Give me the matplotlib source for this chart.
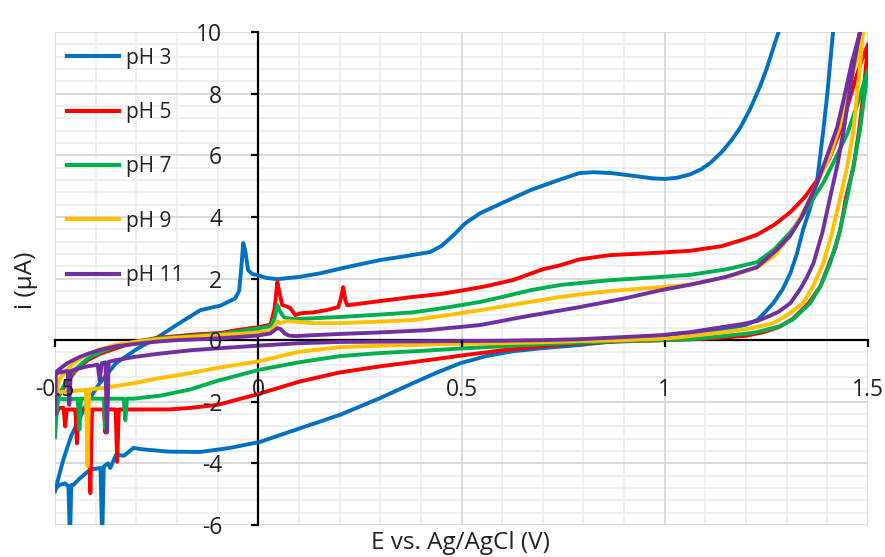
import numpy as np
import matplotlib
matplotlib.use("Agg")
import matplotlib.pyplot as plt
from matplotlib.ticker import FixedLocator

plt.rcParams['font.family'] = ['Open Sans', 'DejaVu Sans']
plt.rcParams['axes.unicode_minus'] = False

# ---------------- data: cyclic voltammograms (E in V, i in uA) ----------------
labels = ["pH 3", "pH 5", "pH 7", "pH 9", "pH 11"]
colors = ["#0070C0", "#FF0000", "#00B050", "#FFC000", "#7030A0"]

# pH 3
ph3_E_fwd = [-0.50, -0.49, -0.48, -0.46, -0.445, -0.42, -0.39, -0.35, -0.30, -0.25,
             -0.20, -0.143, -0.093, -0.057, -0.047, -0.042, -0.037, -0.032, -0.025, -0.015,
             0.0, 0.02, 0.047, 0.10, 0.153, 0.218, 0.30, 0.36, 0.423, 0.45,
             0.48, 0.51, 0.546, 0.60, 0.67, 0.74, 0.79, 0.824, 0.87, 0.93,
             0.97, 1.0, 1.03, 1.063, 1.09, 1.112, 1.14, 1.165, 1.186, 1.21,
             1.235, 1.252, 1.27, 1.28, 1.30]
ph3_I_fwd = [-4.9, -4.4, -3.9, -3.1, -2.7, -2.0, -1.4, -0.75, -0.3, 0.07,
             0.5, 0.97, 1.12, 1.35, 1.6, 2.3, 3.15, 2.9, 2.27, 2.15,
             2.1, 2.02, 1.98, 2.05, 2.17, 2.37, 2.6, 2.72, 2.86, 3.05,
             3.4, 3.8, 4.12, 4.45, 4.87, 5.2, 5.42, 5.45, 5.42, 5.32,
             5.25, 5.23, 5.27, 5.38, 5.55, 5.75, 6.1, 6.5, 6.9, 7.5,
             8.25, 8.86, 9.6, 10.0, 10.9]
ph3_E_rev = [1.43, 1.414, 1.40, 1.39, 1.375, 1.358, 1.34, 1.325, 1.309, 1.29,
             1.267, 1.245, 1.227, 1.20, 1.186, 1.145, 1.063, 0.99, 0.90, 0.79,
             0.70, 0.627, 0.56, 0.497, 0.44, 0.38, 0.30, 0.20, 0.103, 0.005,
             -0.07, -0.143, -0.22, -0.28, -0.307, -0.33, -0.35, -0.364, -0.37, -0.380,
             -0.384, -0.388, -0.413, -0.44, -0.455, -0.460, -0.463, -0.467, -0.475, -0.49,
             -0.50]
ph3_I_rev = [11.2, 10.0, 8.0, 6.8, 5.19, 4.3, 3.57, 2.8, 2.17, 1.65,
             1.2, 0.88, 0.65, 0.5, 0.45, 0.33, 0.2, 0.1, 0.0, -0.16,
             -0.26, -0.36, -0.52, -0.75, -1.05, -1.4, -1.88, -2.43, -2.86, -3.3,
             -3.5, -3.63, -3.62, -3.55, -3.5, -3.75, -3.72, -4.15, -4.0, -4.1,
             -6.5, -4.15, -4.2, -4.5, -4.7, -4.7, -6.5, -4.75, -4.65, -4.7,
             -4.85]

# pH 5
ph5_E_fwd = [-0.50, -0.49, -0.475, -0.45, -0.42, -0.39, -0.347, -0.30, -0.25, -0.20,
             -0.15, -0.093, -0.05, 0.0, 0.03, 0.04, 0.047, 0.053, 0.059, 0.068,
             0.079, 0.091, 0.103, 0.135, 0.17, 0.197, 0.204, 0.209, 0.214, 0.219,
             0.26, 0.30, 0.38, 0.45, 0.505, 0.56, 0.627, 0.70, 0.743, 0.79,
             0.866, 0.93, 0.99, 1.063, 1.14, 1.19, 1.227, 1.27, 1.309, 1.345,
             1.375, 1.405, 1.432, 1.45, 1.47, 1.485, 1.50]
ph5_I_fwd = [-2.3, -1.8, -1.46, -1.0, -0.65, -0.45, -0.25, -0.05, 0.07, 0.13,
             0.19, 0.23, 0.33, 0.42, 0.5, 1.0, 1.88, 1.5, 1.14, 1.1,
             1.04, 0.81, 0.87, 0.9, 0.98, 1.07, 1.4, 1.72, 1.3, 1.13,
             1.2, 1.27, 1.4, 1.5, 1.62, 1.75, 1.95, 2.3, 2.43, 2.62,
             2.76, 2.8, 2.84, 2.9, 3.05, 3.25, 3.42, 3.75, 4.15, 4.65,
             5.19, 5.9, 6.8, 7.6, 8.5, 9.1, 9.6]
ph5_E_rev = [1.50, 1.488, 1.478, 1.464, 1.446, 1.432, 1.42, 1.405, 1.383, 1.354,
             1.316, 1.28, 1.24, 1.20, 1.10, 1.00, 0.90, 0.79, 0.70, 0.60,
             0.50, 0.40, 0.30, 0.20, 0.10, 0.0, -0.10, -0.167, -0.22, -0.30,
             -0.343, -0.347, -0.351, -0.372, -0.376, -0.380, -0.409, -0.413, -0.417, -0.442,
             -0.446, -0.450, -0.471, -0.475, -0.479, -0.49, -0.50]
ph5_I_rev = [9.6, 7.9, 6.8, 5.6, 4.64, 3.6, 3.0, 2.5, 1.75, 1.2,
             0.7, 0.42, 0.25, 0.14, 0.04, 0.0, -0.04, -0.1, -0.2, -0.33,
             -0.5, -0.68, -0.85, -1.05, -1.35, -1.75, -2.1, -2.2, -2.25, -2.25,
             -2.25, -3.95, -2.25, -2.25, -3.0, -2.25, -2.25, -4.97, -2.25, -2.25,
             -3.35, -2.25, -2.25, -2.8, -2.2, -2.2, -2.5]

# pH 7
ph7_E_fwd = [-0.50, -0.495, -0.49, -0.47, -0.45, -0.42, -0.39, -0.35, -0.30, -0.25,
             -0.20, -0.15, -0.093, -0.05, 0.0, 0.03, 0.04, 0.047, 0.055, 0.063,
             0.071, 0.09, 0.135, 0.20, 0.30, 0.38, 0.46, 0.546, 0.60, 0.67,
             0.743, 0.79, 0.87, 0.99, 1.063, 1.153, 1.227, 1.27, 1.309, 1.35,
             1.375, 1.39, 1.42, 1.449, 1.475, 1.50]
ph7_I_fwd = [-3.15, -2.2, -1.75, -1.3, -0.95, -0.6, -0.4, -0.2, -0.05, 0.05,
             0.1, 0.15, 0.2, 0.28, 0.38, 0.45, 0.7, 1.14, 0.9, 0.75,
             0.71, 0.68, 0.71, 0.75, 0.83, 0.9, 1.05, 1.24, 1.4, 1.62,
             1.79, 1.85, 1.95, 2.05, 2.12, 2.3, 2.53, 2.95, 3.5, 4.25,
             4.8, 5.1, 5.9, 6.7, 7.7, 8.77]
ph7_E_rev = [1.50, 1.49, 1.48, 1.465, 1.449, 1.43, 1.407, 1.385, 1.358, 1.316,
             1.284, 1.22, 1.145, 1.063, 1.0, 0.90, 0.79, 0.70, 0.60, 0.50,
             0.40, 0.30, 0.20, 0.10, 0.0, -0.10, -0.167, -0.24, -0.307, -0.323,
             -0.327, -0.331, -0.372, -0.376, -0.380, -0.436, -0.44, -0.444, -0.47, -0.50]
ph7_I_rev = [8.77, 7.8, 6.8, 5.7, 4.64, 3.5, 2.5, 1.8, 1.2, 0.68,
             0.45, 0.24, 0.13, 0.03, 0.0, -0.03, -0.08, -0.13, -0.2, -0.27,
             -0.35, -0.42, -0.52, -0.72, -0.97, -1.32, -1.6, -1.8, -1.9, -1.9,
             -2.6, -1.9, -1.9, -2.86, -1.9, -1.9, -2.9, -1.9, -1.92, -1.9]

# pH 9
ph9_E_fwd = [-0.50, -0.49, -0.47, -0.45, -0.42, -0.39, -0.35, -0.30, -0.25, -0.20,
             -0.15, -0.093, -0.05, 0.0, 0.03, 0.04, 0.047, 0.055, 0.07, 0.09,
             0.135, 0.20, 0.30, 0.38, 0.46, 0.546, 0.65, 0.743, 0.79, 0.87,
             0.99, 1.063, 1.153, 1.227, 1.27, 1.309, 1.35, 1.375, 1.407, 1.43,
             1.456, 1.475, 1.486, 1.50]
ph9_I_fwd = [-1.9, -1.3, -0.95, -0.7, -0.45, -0.3, -0.15, -0.05, 0.03, 0.08,
             0.12, 0.17, 0.2, 0.25, 0.3, 0.45, 0.6, 0.55, 0.62, 0.6,
             0.55, 0.55, 0.6, 0.65, 0.8, 0.97, 1.2, 1.4, 1.48, 1.6,
             1.72, 1.8, 2.05, 2.35, 2.75, 3.4, 4.4, 5.1, 6.0, 6.9,
             8.3, 9.3, 9.97, 10.8]
ph9_E_rev = [1.50, 1.488, 1.476, 1.464, 1.45, 1.432, 1.41, 1.39, 1.365, 1.34,
             1.30, 1.267, 1.21, 1.145, 1.063, 1.0, 0.90, 0.79, 0.70, 0.60,
             0.50, 0.40, 0.30, 0.20, 0.10, 0.0, -0.10, -0.167, -0.25, -0.307,
             -0.38, -0.416, -0.42, -0.424, -0.43, -0.47, -0.50]
ph9_I_rev = [11.5, 10.0, 8.3, 6.8, 5.7, 4.64, 3.4, 2.5, 1.75, 1.2,
             0.8, 0.55, 0.38, 0.26, 0.13, 0.05, 0.0, -0.03, -0.07, -0.1,
             -0.12, -0.15, -0.18, -0.23, -0.38, -0.69, -0.9, -1.07, -1.25, -1.4,
             -1.55, -1.6, -4.1, -1.6, -1.62, -1.67, -1.7]

# pH 11
ph11_E_fwd = [-0.50, -0.49, -0.47, -0.44, -0.42, -0.39, -0.35, -0.30, -0.25, -0.20,
              -0.143, -0.093, -0.05, 0.0, 0.03, 0.04, 0.047, 0.055, 0.065, 0.075,
              0.09, 0.135, 0.20, 0.30, 0.413, 0.546, 0.65, 0.79, 0.90, 0.99,
              1.063, 1.15, 1.227, 1.26, 1.277, 1.309, 1.335, 1.358, 1.375, 1.40,
              1.424, 1.44, 1.46, 1.48, 1.50]
ph11_I_fwd = [-1.07, -0.95, -0.75, -0.55, -0.45, -0.32, -0.2, -0.12, -0.05, 0.0,
              0.03, 0.06, 0.1, 0.15, 0.22, 0.32, 0.39, 0.36, 0.22, 0.15,
              0.13, 0.16, 0.2, 0.25, 0.32, 0.49, 0.75, 1.07, 1.35, 1.62,
              1.8, 2.05, 2.37, 2.75, 2.95, 3.4, 3.95, 4.6, 5.1, 6.0,
              6.9, 7.8, 9.0, 9.97, 11.0]
ph11_E_rev = [1.50, 1.48, 1.464, 1.44, 1.425, 1.407, 1.388, 1.366, 1.35, 1.333,
              1.309, 1.28, 1.252, 1.227, 1.19, 1.145, 1.063, 0.99, 0.90, 0.79,
              0.70, 0.60, 0.40, 0.20, 0.10, 0.0, -0.093, -0.167, -0.25, -0.307,
              -0.35, -0.368, -0.372, -0.376, -0.385, -0.39, -0.395, -0.42, -0.45, -0.461,
              -0.465, -0.469, -0.49, -0.498, -0.50]
ph11_I_rev = [12.0, 10.0, 8.86, 6.8, 5.7, 4.64, 3.5, 2.5, 2.05, 1.65,
              1.2, 0.92, 0.75, 0.62, 0.52, 0.43, 0.26, 0.16, 0.1, 0.03,
              0.0, -0.02, -0.04, -0.06, -0.1, -0.18, -0.26, -0.33, -0.45, -0.55,
              -0.65, -0.7, -3.0, -0.72, -0.75, -1.3, -0.8, -0.85, -0.95, -1.0,
              -2.1, -1.0, -1.05, -1.1, -2.4]

series = [
    (ph3_E_fwd + ph3_E_rev, ph3_I_fwd + ph3_I_rev),
    (ph5_E_fwd + ph5_E_rev, ph5_I_fwd + ph5_I_rev),
    (ph7_E_fwd + ph7_E_rev, ph7_I_fwd + ph7_I_rev),
    (ph9_E_fwd + ph9_E_rev, ph9_I_fwd + ph9_I_rev),
    (ph11_E_fwd + ph11_E_rev, ph11_I_fwd + ph11_I_rev),
]

x_ticks = [-0.5, 0, 0.5, 1, 1.5]
x_ticklabels = ["-0.5", "0", "0.5", "1", "1.5"]
y_ticks = [-6, -4, -2, 0, 2, 4, 6, 8, 10]

# ---------------- figure ----------------
fig = plt.figure(figsize=(8.85, 5.57), dpi=100)
ax = fig.add_axes([55 / 885, 1 - 525 / 557, (868 - 55) / 885, (525 - 32) / 557])
ax.set_xlim(-0.5, 1.5)
ax.set_ylim(-6, 10)

# gridlines: light minor lines, slightly darker major lines
for xv in np.linspace(-0.5, 1.5, 21):
    ax.axvline(xv, color="#EEEEEE", lw=1.3, zorder=0.3)
for yv in np.linspace(-6, 10, 41):
    ax.axhline(yv, color="#EEEEEE", lw=1.3, zorder=0.3)
for xv in x_ticks:
    ax.axvline(xv, color="#D9D9D9", lw=1.3, zorder=0.4)
for yv in y_ticks:
    ax.axhline(yv, color="#D9D9D9", lw=1.3, zorder=0.4)

for (E, I), lab, col in zip(series, labels, colors):
    ax.plot(E, I, color=col, lw=2.8, label=lab, zorder=3, solid_joinstyle="round")

ax.xaxis.set_major_locator(FixedLocator(x_ticks))
ax.yaxis.set_major_locator(FixedLocator(y_ticks))
ax.set_xticklabels(x_ticklabels)

# axes crossing at the origin
for side in ("top", "right"):
    ax.spines[side].set_visible(False)
ax.spines["left"].set_position(("data", 0))
ax.spines["bottom"].set_position(("data", 0))
for side in ("left", "bottom"):
    ax.spines[side].set_color("black")
    ax.spines[side].set_linewidth(1.6)
    ax.spines[side].set_zorder(2.5)

ax.tick_params(which="major", direction="out", length=5, width=1.6, color="black",
               labelsize=16.5, labelcolor="#222222")
ax.tick_params(axis="x", which="major", pad=22)
ax.tick_params(axis="y", which="major", pad=21)
# tick labels sit on top of the curves
ax.xaxis.set_zorder(4)
ax.yaxis.set_zorder(4)

fig.text(460 / 885, 1 - 543 / 557, "E vs. Ag/AgCl (V)", ha="center", va="center",
         fontsize=17.5, color="#222222")
fig.text(26 / 885, 1 - 280 / 557, "i (\u03bcA)", ha="center", va="center",
         rotation=90, fontsize=17.5, color="#222222")

leg = ax.legend(loc="upper left", bbox_to_anchor=(-0.004, 1.0), frameon=False,
                fontsize=15, handlelength=2.5, handletextpad=0.3,
                labelspacing=1.6, borderaxespad=0.45, borderpad=0.3)
leg.set_zorder(5)
for h in leg.legend_handles:
    h.set_linewidth(3)
for t in leg.get_texts():
    t.set_color("#222222")

fig.savefig("out.png", dpi=100)
